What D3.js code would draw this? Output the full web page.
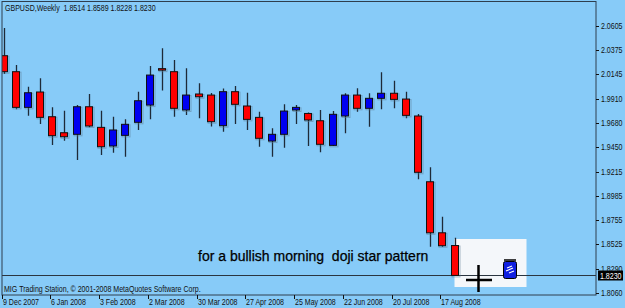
<!DOCTYPE html>
<html>
<head>
<meta charset="utf-8">
<script src="https://cdn.jsdelivr.net/npm/d3@7"></script>
<style>
  html, body { margin: 0; padding: 0; background: #87cbf8; }
  svg { display: block; }
  .lbl { font-family: "Liberation Sans", Arial, sans-serif; font-size: 8.5px; fill: #111; white-space: pre; }
</style>
</head>
<body>
<div id="chart"></div>
<script>
// ========================
// Data (weekly GBPUSD bars)
// ========================
const opens  = [2.0318, 2.0166, 1.9827, 1.9973, 1.9738, 1.9586, 1.9571, 1.9833, 1.9637, 1.9460,
                1.9561, 1.9685, 1.9849, 2.0195, 2.0166, 1.9802, 1.9954, 1.9944, 1.9653, 1.9976,
                1.9840, 1.9732, 1.9507, 1.9571, 1.9802, 1.9769, 1.9700, 1.9466, 1.9745, 1.9944,
                1.9818, 1.9913, 1.9961, 1.9906, 1.9745, 1.9120, 1.8635, 1.8514];
const highs  = [2.0581, 2.0229, 2.0023, 2.0103, 1.9827, 1.9795, 1.9849, 1.9954, 1.9795, 1.9738,
                1.9713, 1.9976, 2.0220, 2.0388, 2.0277, 2.0198, 2.0056, 1.9963, 2.0006, 2.0030,
                1.9966, 1.9786, 1.9628, 1.9856, 1.9849, 1.9778, 1.9802, 1.9792, 1.9961, 2.0008,
                1.9961, 2.0160, 2.0080, 1.9976, 1.9764, 1.9257, 1.8788, 1.8589];
const lows   = [2.0144, 1.9808, 1.9748, 1.9669, 1.9469, 1.9510, 1.9327, 1.9637, 1.9374, 1.9396,
                1.9358, 1.9612, 1.9713, 1.9987, 1.9738, 1.9754, 1.9723, 1.9645, 1.9595, 1.9669,
                1.9612, 1.9453, 1.9358, 1.9443, 1.9669, 1.9460, 1.9400, 1.9460, 1.9580, 1.9786,
                1.9643, 1.9808, 1.9818, 1.9723, 1.9143, 1.8502, 1.8502, 1.8228];
const closes = [2.0166, 1.9827, 1.9966, 1.9732, 1.9558, 1.9548, 1.9833, 1.9650, 1.9453, 1.9612,
                1.9666, 1.9890, 2.0134, 2.0189, 1.9818, 1.9944, 1.9928, 1.9691, 1.9976, 1.9856,
                1.9713, 1.9533, 1.9571, 1.9792, 1.9827, 1.9707, 1.9476, 1.9761, 1.9944, 1.9818,
                1.9913, 1.9961, 1.9903, 1.9751, 1.9210, 1.8635, 1.8512, 1.8230];

const dateLabels = ["9 Dec 2007", "6 Jan 2008", "3 Feb 2008", "2 Mar 2008", "30 Mar 2008",
                    "27 Apr 2008", "25 May 2008", "22 Jun 2008", "20 Jul 2008", "17 Aug 2008"];
const dateIndex  = [0, 4, 8, 12, 16, 20, 24, 28, 32, 36];
const priceTicks = [2.0605, 2.0375, 2.0145, 1.9910, 1.9680, 1.9450, 1.9215, 1.8985, 1.8755, 1.8525, 1.8290, 1.8060];
const lastPrice = 1.8230;

const bars = opens.map((o, i) => ({ i, o, h: highs[i], l: lows[i], c: closes[i] }));

// ========================
// Setup
// ========================
const width = 625, height = 308;
const plotLeft = 2, plotRight = 596, plotTop = 1.5, plotBottom = 295;
const squeeze = 0.83; // terminal font is narrower than Liberation Sans

const x = d3.scaleLinear().domain([0, 37]).range([3.5, 454.5]);
const y = d3.scaleLinear().domain([1.8060, 2.0605]).range([293.3, 25.5]);

const svg = d3.select("#chart").append("svg")
    .attr("width", width)
    .attr("height", height);

svg.append("rect")
    .attr("width", width).attr("height", height)
    .attr("fill", "#87cbf8");

svg.append("clipPath").attr("id", "plotclip")
  .append("rect")
    .attr("x", plotLeft).attr("y", plotTop)
    .attr("width", plotRight - plotLeft).attr("height", plotBottom - plotTop);

// annotation box (behind the bars)
svg.append("rect")
    .attr("x", 454.5).attr("y", 239)
    .attr("width", 72).attr("height", 48)
    .attr("fill", "#f4f7fa");

// current price line
svg.append("line")
    .attr("x1", plotLeft).attr("x2", plotRight)
    .attr("y1", Math.round(y(lastPrice)) + 0.5).attr("y2", Math.round(y(lastPrice)) + 0.5)
    .attr("stroke", "#2a3540").attr("stroke-width", 1);

// ========================
// Candles
// ========================
const g = svg.append("g").attr("clip-path", "url(#plotclip)");
const bodyW = 7;

const candle = g.selectAll("g.bar")
    .data(bars)
    .enter()
    .append("g")
    .attr("class", "bar");

candle.append("line")
    .attr("x1", d => Math.round(x(d.i)) + 0.5)
    .attr("x2", d => Math.round(x(d.i)) + 0.5)
    .attr("y1", d => y(d.h))
    .attr("y2", d => y(d.l))
    .attr("stroke", "#1e2a38")
    .attr("stroke-width", 1.3);

// soft shadow like the original screenshot
candle.append("rect")
    .attr("x", d => Math.round(x(d.i)) - bodyW / 2 + 0.5)
    .attr("y", d => y(Math.max(d.o, d.c)) + 0.5)
    .attr("width", bodyW + 1)
    .attr("height", d => Math.max(1.5, Math.abs(y(d.o) - y(d.c))) + 1)
    .attr("fill", "none")
    .attr("stroke", "#5a7890")
    .attr("stroke-opacity", 0.5);

candle.append("rect")
    .attr("x", d => Math.round(x(d.i)) - bodyW / 2)
    .attr("y", d => y(Math.max(d.o, d.c)))
    .attr("width", bodyW)
    .attr("height", d => Math.max(1.5, Math.abs(y(d.o) - y(d.c))))
    .attr("fill", d => d.c >= d.o ? "#0000f0" : "#ff0000")
    .attr("stroke", "#111")
    .attr("stroke-width", 1);

// ========================
// Frame and axes
// ========================
svg.append("rect")
    .attr("x", plotLeft).attr("y", plotTop)
    .attr("width", plotRight - plotLeft).attr("height", plotBottom - plotTop)
    .attr("fill", "none")
    .attr("stroke", "#2e3e4e")
    .attr("stroke-width", 1);

// small label helper: place with a transform so the narrow scale is real
function label(parent, tx, ty, str) {
    return parent.append("text")
        .attr("class", "lbl")
        .attr("transform", `translate(${tx},${ty}) scale(${squeeze},1)`)
        .text(str);
}

const yAxis = svg.append("g");
yAxis.selectAll("line")
    .data(priceTicks)
    .enter().append("line")
    .attr("x1", plotRight).attr("x2", plotRight + 3)
    .attr("y1", d => Math.round(y(d)) + 0.5).attr("y2", d => Math.round(y(d)) + 0.5)
    .attr("stroke", "#111");
priceTicks.forEach(p => label(yAxis, plotRight + 5, y(p) + 3, p.toFixed(4)));

const xAxis = svg.append("g");
xAxis.selectAll("line")
    .data(dateIndex)
    .enter().append("line")
    .attr("x1", d => Math.round(x(d)) - 1.5).attr("x2", d => Math.round(x(d)) - 1.5)
    .attr("y1", plotBottom).attr("y2", plotBottom + 4)
    .attr("stroke", "#111");
dateIndex.forEach((k, i) => label(xAxis, Math.round(x(k)) - 1, 304.5, dateLabels[i]));

// last price marker
svg.append("rect")
    .attr("x", 598).attr("y", 270.5)
    .attr("width", 25).attr("height", 10)
    .attr("fill", "#000");
label(svg, 600, 278.5, lastPrice.toFixed(4)).style("fill", "#fff");

// ========================
// Texts
// ========================
label(svg, 5, 11, "GBPUSD,Weekly  1.8514 1.8589 1.8228 1.8230");
label(svg, 4, 291.5, "MIG Trading Station, © 2001-2008 MetaQuotes Software Corp.");

svg.append("text")
    .attr("x", 198).attr("y", 261)
    .style("font-family", "Liberation Sans, Arial, sans-serif")
    .style("font-size", "14px")
    .style("white-space", "pre")
    .style("fill", "#000")
    .style("stroke", "#000")
    .style("stroke-width", 0.25)
    .text("for a bullish morning  doji star pattern");

// cursor cross and icon
svg.append("line")
    .attr("x1", 466).attr("x2", 492).attr("y1", 280).attr("y2", 280)
    .attr("stroke", "#000").attr("stroke-width", 2.5);
svg.append("line")
    .attr("x1", 478.5).attr("x2", 478.5).attr("y1", 265).attr("y2", 292)
    .attr("stroke", "#000").attr("stroke-width", 2.5);

const icon = svg.append("g").attr("transform", "translate(503,259)");
icon.append("rect")
    .attr("x", 0.5).attr("y", 2.5).attr("width", 13).attr("height", 17)
    .attr("rx", 2)
    .attr("fill", "#1020e0").attr("stroke", "#000");
icon.append("line")
    .attr("x1", 1).attr("x2", 13).attr("y1", 1).attr("y2", 1)
    .attr("stroke", "#000").attr("stroke-width", 1.5);
icon.append("path")
    .attr("d", "M4,9 L9,7 M3,12 L10,9 M6,14 L11,12")
    .attr("stroke", "#fff").attr("stroke-width", 1.2).attr("fill", "none");
</script>
</body>
</html>
